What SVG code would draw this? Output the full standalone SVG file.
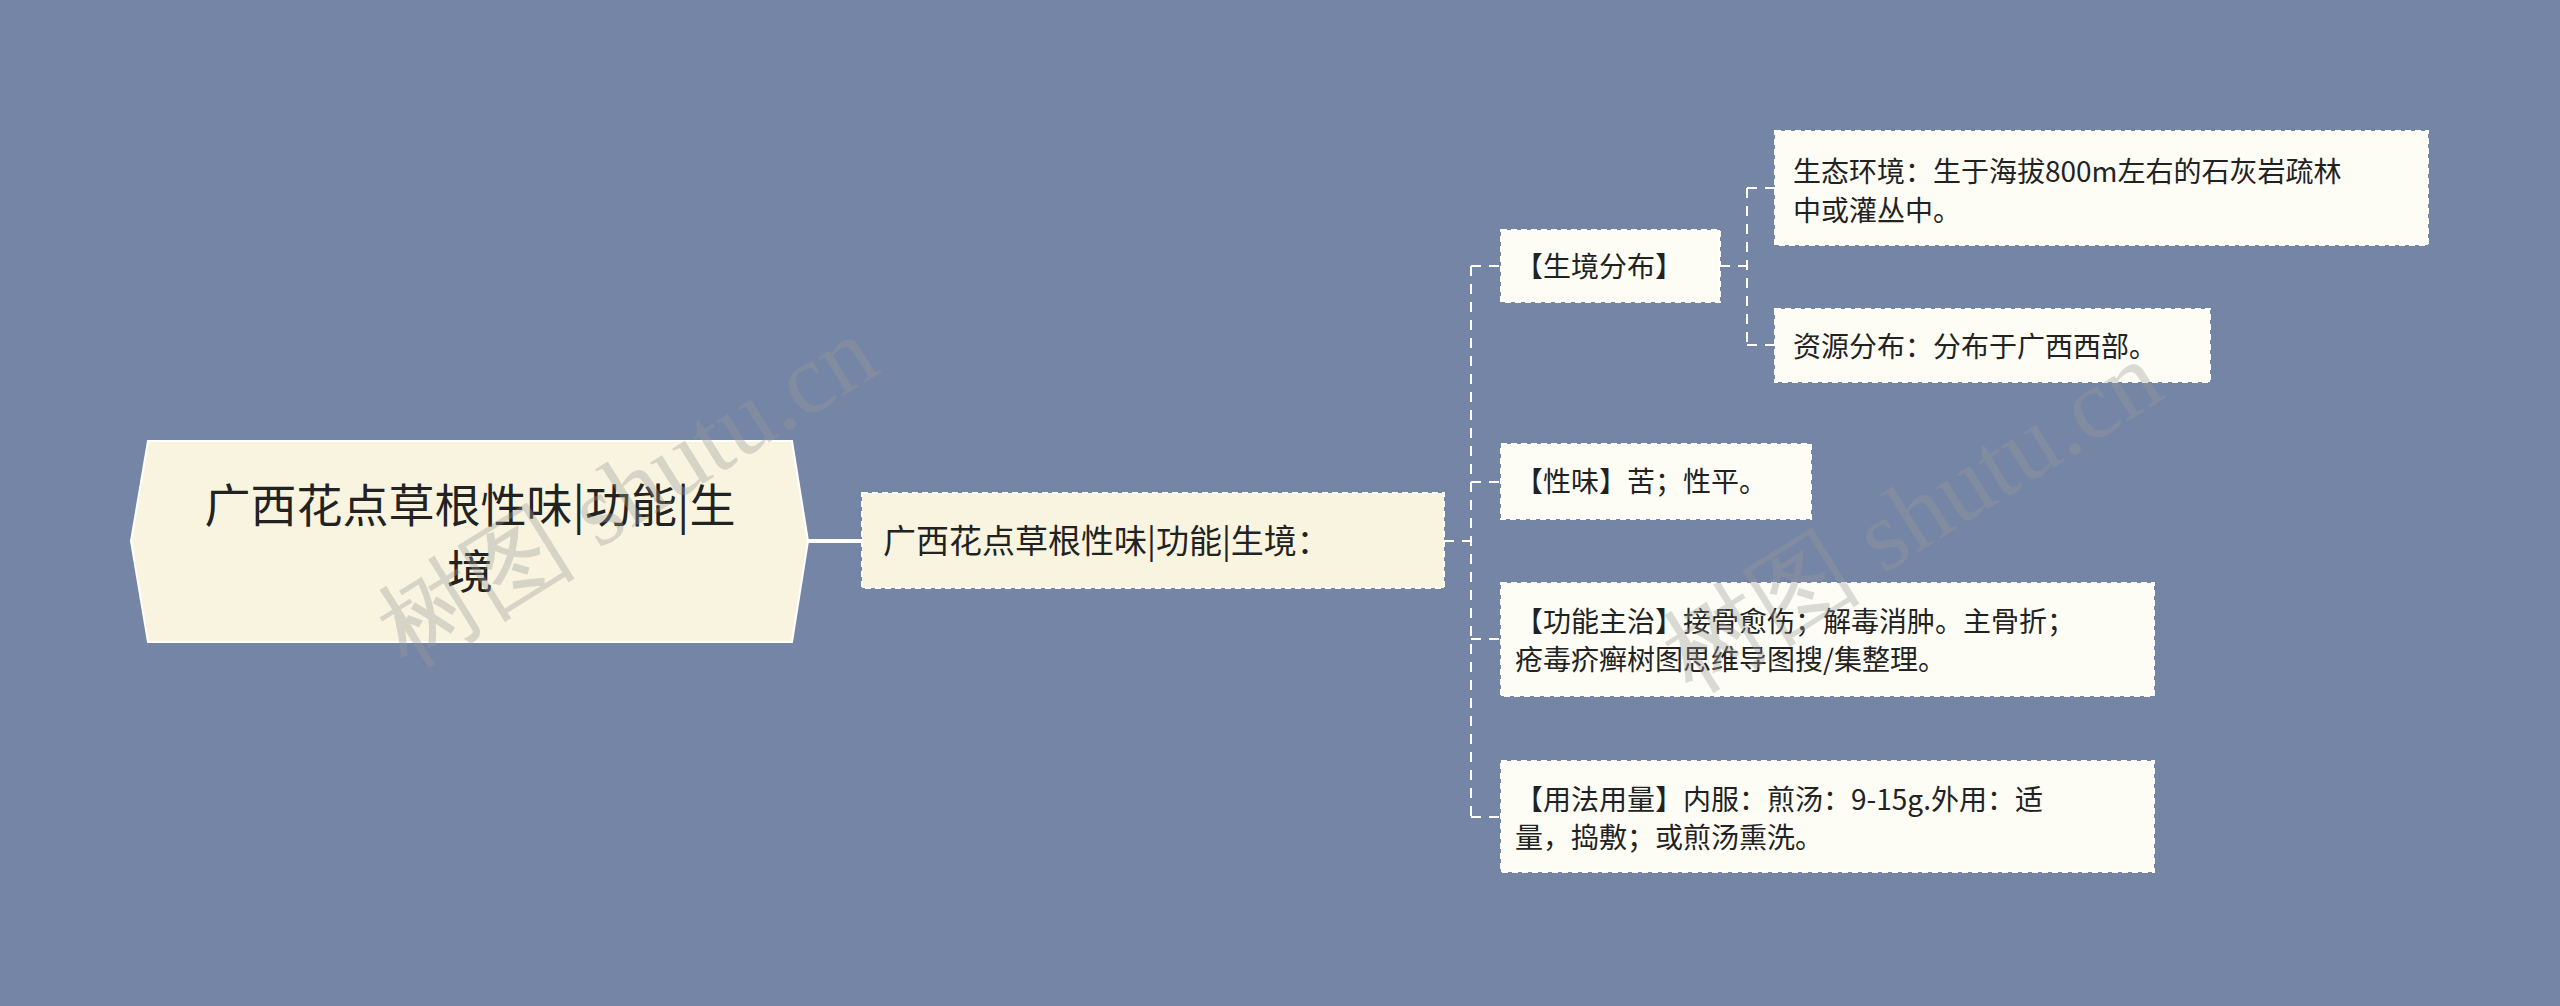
<svg xmlns="http://www.w3.org/2000/svg" width="2560" height="1006" viewBox="0 0 2560 1006">
<style>
text{font-family:"Noto Sans CJK SC","Noto Sans",sans-serif;fill:#222}
.leaf{fill:#FDFDF6;stroke:#fff;stroke-width:2;stroke-dasharray:6 4}
.main{fill:#F8F4DF;stroke:#fff;stroke-width:2;stroke-dasharray:6 4}
.lt{font-size:28px}
.c{fill:none;stroke:#fff;stroke-width:2;stroke-dasharray:10 8}
.wm{font-family:"Liberation Serif",serif;font-size:100px;fill:#9a9a9a;opacity:0.35}
</style>
<rect width="2560" height="1006" fill="#7585A6"/>
<g id="connectors">
<path class="c" d="M808 541H862" style="stroke-width:4;stroke-dasharray:none"/>
<path class="c" d="M1444 541H1471M1471 266V817M1471 266H1501M1471 482H1501M1471 639H1501M1471 817H1501"/>
<path class="c" d="M1720 266H1747M1747 188V345M1747 188H1775M1747 345H1775"/>
</g>
<g id="root">
<polygon points="148,441 792,441 808,541 792,642 148,642 131,541" fill="#F8F4DF" stroke="#fff" stroke-width="2"/>
<text x="470" y="522" text-anchor="middle" font-size="46">广西花点草根性味|功能|生</text>
<text x="470" y="588" text-anchor="middle" font-size="46">境</text>
</g>
<g id="main">
<rect class="main" x="862" y="493" width="582" height="95"/>
<text x="883" y="553" font-size="33">广西花点草根性味|功能|生境：</text>
</g>
<g id="n1"><rect class="leaf" x="1501" y="230" width="219" height="72"/><text class="lt" x="1515" y="277">【生境分布】</text></g>
<g id="n2"><rect class="leaf" x="1775" y="131" width="653" height="114"/><text class="lt" x="1793" y="182">生态环境：生于海拔800m左右的石灰岩疏林</text><text class="lt" x="1793" y="221">中或灌丛中。</text></g>
<g id="n3"><rect class="leaf" x="1775" y="309" width="435" height="73"/><text class="lt" x="1793" y="357">资源分布：分布于广西西部。</text></g>
<g id="n4"><rect class="leaf" x="1501" y="444" width="310" height="75"/><text class="lt" x="1515" y="492">【性味】苦；性平。</text></g>
<g id="n5"><rect class="leaf" x="1501" y="583" width="653" height="113"/><text class="lt" x="1515" y="632">【功能主治】接骨愈伤；解毒消肿。主骨折；</text><text class="lt" x="1515" y="670">疮毒疥癣树图思维导图搜/集整理。</text></g>
<g id="n6"><rect class="leaf" x="1501" y="761" width="653" height="111"/><text class="lt" x="1515" y="810">【用法用量】内服：煎汤：9-15g.外用：适</text><text class="lt" x="1515" y="848">量，捣敷；或煎汤熏洗。</text></g>
<text class="wm" transform="translate(645,520) rotate(-32)" text-anchor="middle">树图 shutu.cn</text>
<text class="wm" transform="translate(1930,545) rotate(-32)" text-anchor="middle">树图 shutu.cn</text>
</svg>
